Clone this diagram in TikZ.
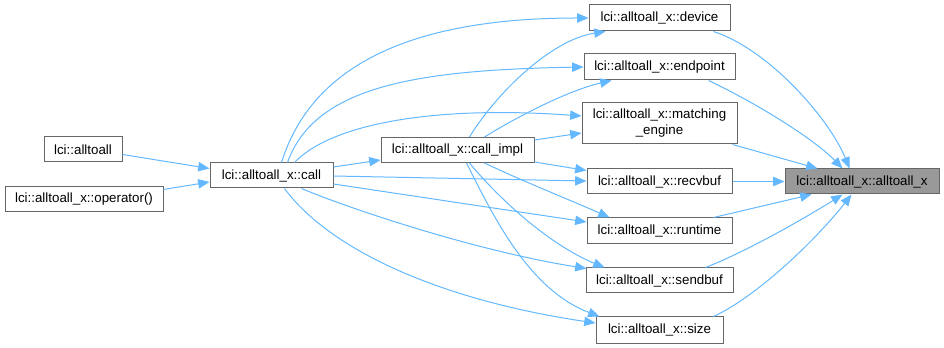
\documentclass[tikz,border=0pt]{standalone}
\usepackage{fontspec}
\setmainfont{Liberation Sans}
\usetikzlibrary{arrows.meta,calc}
\definecolor{edgeblue}{HTML}{63B8FF}
\definecolor{boxborder}{HTML}{666666}
\definecolor{hilite}{HTML}{999999}
\begin{document}
\begin{tikzpicture}[x=0.75pt,y=-0.75pt,
  fn/.style={draw=boxborder,line width=0.75pt,fill=white,inner sep=0pt,
    font=\fontsize{10}{12}\selectfont,align=center},
  fncur/.style={fn,fill=hilite},
  calls/.style={draw=edgeblue,line width=0.75pt,
    -{Triangle[length=8.5pt,width=7pt]}}]
\useasboundingbox (0,0) rectangle (944,348);

% functions
\node[fn,minimum width=78*0.75pt,minimum height=25*0.75pt] (alltoall) at (83,149.5) {lci::alltoall};
\node[fn,minimum width=158*0.75pt,minimum height=25*0.75pt] (operator) at (84,199.5) {lci::alltoall\_x::operator()};
\node[fn,minimum width=123*0.75pt,minimum height=25*0.75pt] (call) at (271.5,175.5) {lci::alltoall\_x::call};
\node[fn,minimum width=153*0.75pt,minimum height=25*0.75pt] (callimpl) at (457.5,150) {lci::alltoall\_x::call\_impl};
\node[fn,minimum width=141*0.75pt,minimum height=26*0.75pt] (device) at (659.5,18) {lci::alltoall\_x::device};
\node[fn,minimum width=151*0.75pt,minimum height=26*0.75pt] (endpoint) at (659.5,67) {lci::alltoall\_x::endpoint};
\node[fn,minimum width=155*0.75pt,minimum height=41*0.75pt] (matching) at (659.5,123.5) {lci::alltoall\_x::matching\\\_engine};
\node[fn,minimum width=145*0.75pt,minimum height=25*0.75pt] (recvbuf) at (659.5,181.5) {lci::alltoall\_x::recvbuf};
\node[fn,minimum width=145*0.75pt,minimum height=26*0.75pt] (runtime) at (659.5,231) {lci::alltoall\_x::runtime};
\node[fn,minimum width=147*0.75pt,minimum height=25*0.75pt] (sendbuf) at (659.5,280.5) {lci::alltoall\_x::sendbuf};
\node[fn,minimum width=127*0.75pt,minimum height=26*0.75pt] (size) at (659.5,330) {lci::alltoall\_x::size};
\node[fncur,minimum width=154*0.75pt,minimum height=25*0.75pt] (target) at (862,181.5) {lci::alltoall\_x::alltoall\_x};

% callers of call
\draw[calls] ($(alltoall.east)+(0,5)$) -- ($(call.west)+(0,-7)$);
\draw[calls] ($(operator.east)+(0,-10)$) -- ($(call.west)+(0,6.5)$);

% call -> members
\draw[calls] ($(call.east)+(0,-8.5)$) -- ($(callimpl.west)+(0,10)$);
\draw[calls] ($(call.north west)+(72,0)$) .. controls (315,55) and (430,18) .. (device.west);
\draw[calls] ($(call.north west)+(78,0)$) .. controls (315,85) and (420,70) .. (endpoint.west);
\draw[calls] ($(call.north west)+(85,0)$) .. controls (330,125) and (430,105) .. ($(matching.west)+(0,-7.5)$);
\draw[calls] ($(call.east)+(0,0.5)$) -- ($(recvbuf.west)+(0,-0.5)$);
\draw[calls] ($(call.east)+(0,8.5)$) -- ($(runtime.west)+(0,-9)$);
\draw[calls] ($(call.south west)+(92,0)$) .. controls (340,205) and (470,250) .. ($(sendbuf.north west)+(1,1)$);
\draw[calls] ($(call.south west)+(75,0)$) .. controls (330,250) and (440,300) .. ($(size.west)+(0,-7)$);

% call_impl -> members
\draw[calls] ($(callimpl.north west)+(89,0)$) .. controls (495,95) and (550,40) .. ($(device.south west)+(17,0)$);
\draw[calls] ($(callimpl.north west)+(104,0)$) .. controls (520,115) and (570,90) .. ($(endpoint.south west)+(28,0)$);
\draw[calls] ($(callimpl.east)+(0,-10)$) -- ($(matching.west)+(0,9.5)$);
\draw[calls] ($(callimpl.east)+(0,12)$) -- ($(recvbuf.west)+(0,-11)$);
\draw[calls] ($(callimpl.south west)+(104,0)$) .. controls (520,180) and (570,200) .. ($(runtime.north west)+(23,0)$);
\draw[calls] ($(callimpl.south west)+(89,0)$) .. controls (500,200) and (550,245) .. ($(sendbuf.north west)+(19,0)$);
\draw[calls] ($(callimpl.south west)+(86,0)$) .. controls (495,220) and (530,290) .. ($(size.north west)+(4,0)$);

% members -> alltoall_x
\draw[calls] ($(device.south east)+(-17,0)$) .. controls (770,50) and (830,120) .. ($(target.north west)+(65,0)$);
\draw[calls] ($(endpoint.south east)+(-27,0)$) .. controls (760,105) and (815,140) .. ($(target.north west)+(58,0)$);
\draw[calls] ($(matching.south east)+(-5,0)$) -- ($(target.north west)+(33,0)$);
\draw[calls] (recvbuf.east) -- (target.west);
\draw[calls] ($(runtime.north east)+(-19,0)$) -- ($(target.south west)+(27,0)$);
\draw[calls] ($(sendbuf.north east)+(-28,0)$) .. controls (750,250) and (810,215) .. ($(target.south west)+(58,0)$);
\draw[calls] ($(size.north east)+(-10,0)$) .. controls (760,295) and (820,235) .. ($(target.south west)+(67,0)$);
\end{tikzpicture}
\end{document}
